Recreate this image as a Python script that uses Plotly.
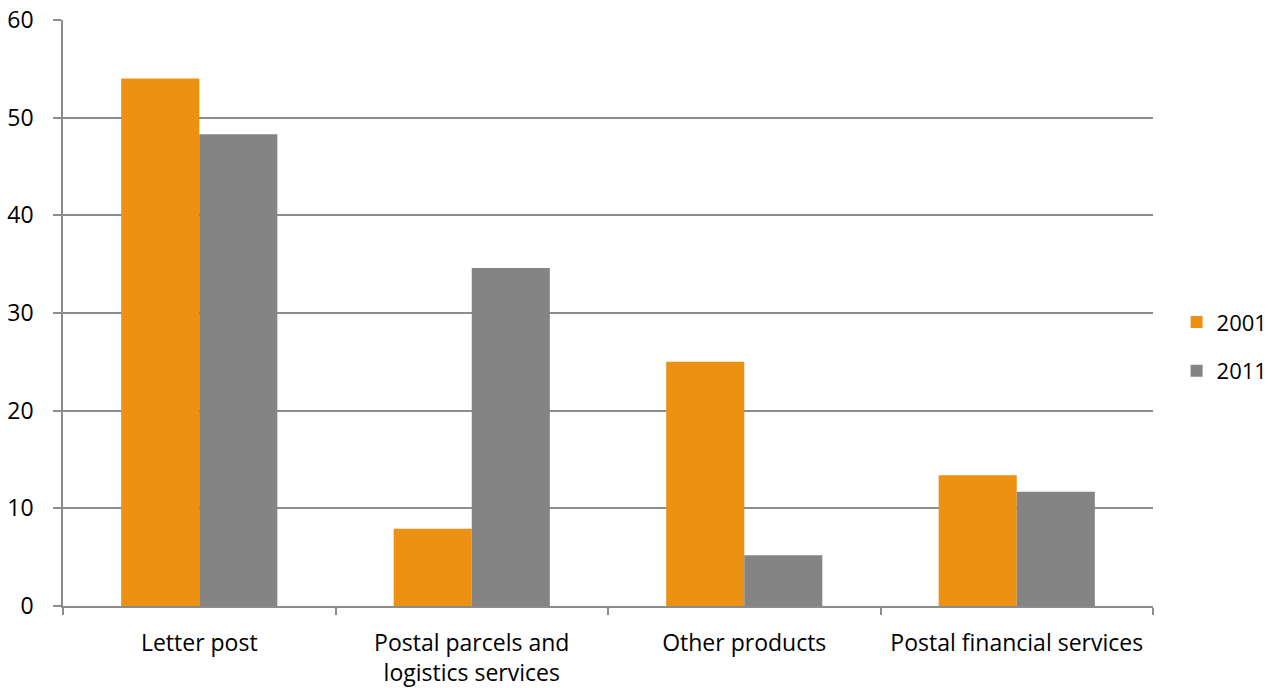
import plotly.graph_objects as go

categories = ["Letter post", "Postal parcels and<br>logistics services", "Other products", "Postal financial services"]
values_2001 = [54.0, 7.9, 25.0, 13.4]
values_2011 = [48.3, 34.6, 5.2, 11.7]
y_ticks = [0, 10, 20, 30, 40, 50, 60]

ORANGE = "#EC9112"
GREY = "#848484"
LINE = "#8C8C8C"
FONT = "'Open Sans', sans-serif"

fig = go.Figure()
fig.add_trace(go.Bar(x=categories, y=values_2001, name="2001", legendgroup="a",
                     marker=dict(color=ORANGE, line=dict(width=0))))
fig.add_trace(go.Bar(x=categories, y=values_2011, name="2011", legendgroup="b",
                     marker=dict(color=GREY, line=dict(width=0))))

fig.update_layout(
    width=1272, height=688,
    margin=dict(l=63, r=119, t=20, b=82),
    paper_bgcolor="white", plot_bgcolor="white",
    barmode="group", bargap=0.427, bargroupgap=0,
    font=dict(family=FONT, size=23, color="#000000"),
    legend=dict(xref="container", yref="container", x=0.925, y=0.496,
                xanchor="left", yanchor="middle",
                font=dict(size=22), itemwidth=30, tracegroupgap=17,
                traceorder="grouped"),
    showlegend=True,
)
fig.update_xaxes(
    showgrid=False, showline=True, linecolor=LINE, linewidth=1.5,
    ticks="outside", tickson="boundaries", ticklen=7, tickcolor=LINE, tickwidth=1.5,
    tickfont=dict(size=23), automargin=False, ticklabelstandoff=16,
    ticklabeloverflow="allow",
)
fig.update_yaxes(
    range=[0, 60], tickvals=y_ticks, showgrid=True, gridcolor=LINE, gridwidth=1.5,
    showline=True, linecolor=LINE, linewidth=1.5, zeroline=False,
    ticks="outside", ticklen=8, tickcolor=LINE, tickwidth=1.5,
    tickfont=dict(size=23), automargin=False, ticklabelstandoff=15,
    ticklabeloverflow="allow",
)

fig.write_html("out.html", config={"displayModeBar": False},
               post_script="document.body.style.margin='0';")
